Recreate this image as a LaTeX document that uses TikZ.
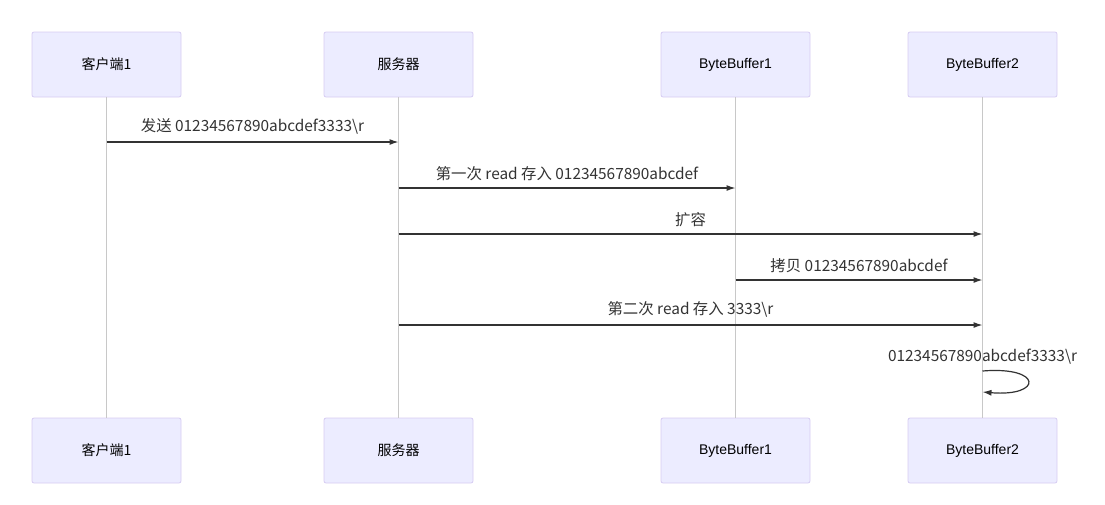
\documentclass[tikz,border=0pt]{standalone}
\usepackage{fontspec}
\setmainfont{Liberation Sans}
\newfontfamily\cjk{Noto Sans CJK SC}
\usepackage{tikz}
\usetikzlibrary{arrows.meta,positioning,calc}
\definecolor{actorfill}{HTML}{ECECFF}
\definecolor{actorline}{HTML}{D6CCF2}
\definecolor{lifegray}{HTML}{C8C8C8}
\definecolor{msgdark}{HTML}{333333}

\begin{document}
\begin{tikzpicture}[
  x=1pt, y=-1pt,
  actor/.style={
    draw=actorline,
    line width=0.8pt,
    fill=actorfill,
    rounded corners=2pt,
    minimum width=149pt,
    minimum height=65pt,
    font=\fontsize{14}{16}\selectfont,
    inner sep=0pt,
  },
  lifeline/.style={
    draw=lifegray,
    line width=0.8pt,
  },
  msg/.style={
    -{Latex[length=9pt, width=6pt]},
    line width=1.2pt,
    draw=msgdark,
  },
  msglabel/.style={
    font=\cjk\fontsize{15.4}{18}\selectfont,
    text=msgdark,
    inner sep=0pt,
  },
]

\useasboundingbox (0,0) rectangle (1105,504);

% =============================================================================
% Actors (top and bottom rows)
% =============================================================================
\node[actor] (clienttop) at (106.5,64.5) {\cjk 客户端1};
\node[actor] (servertop) at (398.5,64.5) {\cjk 服务器};
\node[actor] (buf1top)   at (735.5,64.5) {ByteBuffer1};
\node[actor] (buf2top)   at (982.5,64.5) {ByteBuffer2};

\node[actor] (clientbot) at (106.5,450.5) {\cjk 客户端1};
\node[actor] (serverbot) at (398.5,450.5) {\cjk 服务器};
\node[actor] (buf1bot)   at (735.5,450.5) {ByteBuffer1};
\node[actor] (buf2bot)   at (982.5,450.5) {ByteBuffer2};

% --- lifelines ---
\begin{scope}[on background layer/.try]
  \draw[lifeline] (clienttop) -- (clientbot);
  \draw[lifeline] (servertop) -- (serverbot);
  \draw[lifeline] (buf1top) -- (buf1bot);
  \draw[lifeline] (buf2top) -- (buf2bot);
\end{scope}

% =============================================================================
% Messages
% =============================================================================
\coordinate (m1s) at (clienttop.south |- 0,142);
\coordinate (m1e) at (servertop.south |- 0,142);
\draw[msg] (m1s) -- node[msglabel, above=7pt] {发送 01234567890abcdef3333\textbackslash r} (m1e);

\coordinate (m2s) at (servertop.south |- 0,188);
\coordinate (m2e) at (buf1top.south |- 0,188);
\draw[msg] (m2s) -- node[msglabel, above=7pt] {第一次 read 存入 01234567890abcdef} (m2e);

\coordinate (m3s) at (servertop.south |- 0,234);
\coordinate (m3e) at (buf2top.south |- 0,234);
\draw[msg] (m3s) -- node[msglabel, above=7pt] {扩容} (m3e);

\coordinate (m4s) at (buf1top.south |- 0,280);
\coordinate (m4e) at (buf2top.south |- 0,280);
\draw[msg] (m4s) -- node[msglabel, above=7pt] {拷贝 01234567890abcdef} (m4e);

\coordinate (m5s) at (servertop.south |- 0,325);
\coordinate (m5e) at (buf2top.south |- 0,325);
\draw[msg] (m5s) -- node[msglabel, above=7pt] {第二次 read 存入 3333\textbackslash r} (m5e);

% --- self message on ByteBuffer2 ---
\coordinate (selfs) at (buf2top.south |- 0,371);
\coordinate (selfe) at (buf2top.south |- 0,392);
\node[msglabel] (selflabel) at (buf2top.south |- 0,357) {01234567890abcdef3333\textbackslash r};
\draw[msg] (selfs) .. controls (1043,366) and (1043,397) .. (selfe);

\end{tikzpicture}
\end{document}
